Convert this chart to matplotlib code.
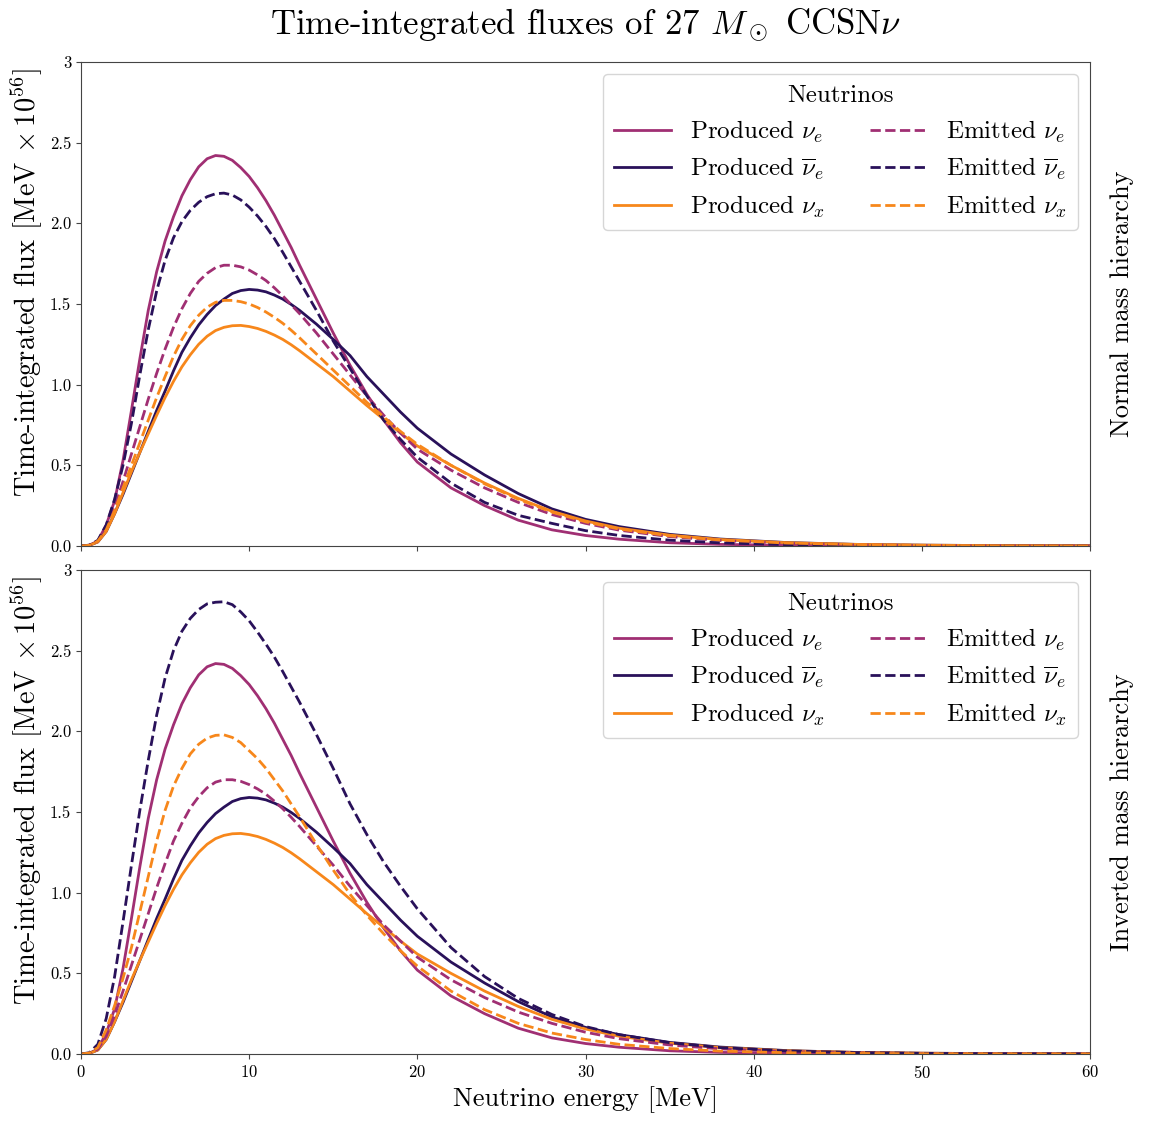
import matplotlib
matplotlib.use("Agg")
import matplotlib.pyplot as plt

plt.rcParams['font.family'] = 'serif'
plt.rcParams['font.serif'] = ['cmr10', 'DejaVu Serif']
plt.rcParams['mathtext.fontset'] = 'cm'
plt.rcParams['axes.formatter.use_mathtext'] = True
plt.rcParams['axes.unicode_minus'] = False

# Energias (MeV) donde se leyeron los valores
energy = [0, 0.5, 1, 1.5, 2, 2.5, 3, 3.5, 4, 4.5, 5, 5.5, 6, 6.5, 7, 7.5, 8, 8.5, 9, 9.5,
          10, 10.5, 11, 11.5, 12, 12.5, 13,
          14, 15, 16, 17, 18, 19, 20, 22, 24, 26, 28, 30, 32, 35, 38, 42, 46, 50, 55, 60]

# Flujos producidos (iguales en ambas jerarquias)
prod_nue = [0, 0.005, 0.03, 0.13, 0.28, 0.53, 0.84, 1.16, 1.46, 1.70, 1.89, 2.04, 2.17, 2.27,
            2.35, 2.40, 2.42, 2.415, 2.39, 2.345, 2.29, 2.22, 2.14, 2.05, 1.95, 1.85, 1.74,
            1.53, 1.32, 1.12, 0.94, 0.78, 0.64, 0.52, 0.36, 0.25, 0.16, 0.10, 0.065, 0.042,
            0.02, 0.01, 0.004, 0.0015, 0.0005, 0.0001, 0]
prod_nuebar = [0, 0.004, 0.025, 0.09, 0.20, 0.32, 0.45, 0.58, 0.71, 0.84, 0.96, 1.085, 1.20,
               1.29, 1.37, 1.435, 1.49, 1.53, 1.565, 1.583, 1.59, 1.586, 1.575, 1.555, 1.53,
               1.497, 1.46,
               1.375, 1.28, 1.18, 1.05, 0.94, 0.83, 0.73, 0.57, 0.44, 0.325, 0.23, 0.165,
               0.12, 0.072, 0.043, 0.021, 0.01, 0.005, 0.002, 0.001]
prod_nux = [0, 0.004, 0.025, 0.09, 0.20, 0.33, 0.46, 0.58, 0.695, 0.81, 0.92, 1.02, 1.11,
            1.185, 1.25, 1.30, 1.335, 1.355, 1.365, 1.367, 1.36, 1.348, 1.33, 1.307, 1.28,
            1.247, 1.21,
            1.13, 1.05, 0.96, 0.87, 0.785, 0.70, 0.62, 0.50, 0.39, 0.295, 0.215, 0.155, 0.11,
            0.067, 0.04, 0.02, 0.01, 0.005, 0.002, 0.001]

# Flujos emitidos, jerarquia normal
emit_nue_nh = [0, 0.004, 0.03, 0.11, 0.24, 0.40, 0.57, 0.74, 0.91, 1.07, 1.22, 1.355, 1.47,
               1.565, 1.64, 1.69, 1.725, 1.74, 1.74, 1.73, 1.71, 1.68, 1.645, 1.60, 1.55,
               1.495, 1.44,
               1.32, 1.19, 1.06, 0.93, 0.81, 0.70, 0.60, 0.47, 0.36, 0.27, 0.195, 0.14, 0.098,
               0.058, 0.034, 0.016, 0.007, 0.003, 0.001, 0]
emit_nuebar_nh = [0, 0.005, 0.035, 0.13, 0.29, 0.50, 0.76, 1.06, 1.34, 1.58, 1.77, 1.91, 2.01,
                  2.08, 2.13, 2.165, 2.183, 2.187, 2.175, 2.145, 2.10, 2.045, 1.98, 1.905,
                  1.82, 1.73, 1.64,
                  1.46, 1.27, 1.10, 0.93, 0.78, 0.66, 0.55, 0.39, 0.27, 0.19, 0.14, 0.095,
                  0.065, 0.036, 0.019, 0.008, 0.0035, 0.0015, 0.0005, 0]
emit_nux_nh = [0, 0.004, 0.03, 0.10, 0.22, 0.36, 0.50, 0.64, 0.78, 0.92, 1.05, 1.175, 1.28,
               1.365, 1.43, 1.48, 1.51, 1.522, 1.522, 1.514, 1.50, 1.478, 1.45, 1.417, 1.38,
               1.337, 1.29,
               1.19, 1.09, 0.99, 0.89, 0.80, 0.71, 0.63, 0.50, 0.385, 0.29, 0.21, 0.15, 0.105,
               0.063, 0.037, 0.018, 0.009, 0.004, 0.0015, 0.0005]

# Flujos emitidos, jerarquia invertida
emit_nue_ih = [0, 0.004, 0.03, 0.11, 0.24, 0.39, 0.55, 0.71, 0.87, 1.03, 1.18, 1.32, 1.43,
               1.525, 1.595, 1.65, 1.685, 1.70, 1.70, 1.69, 1.67, 1.643, 1.61, 1.567, 1.52,
               1.467, 1.41,
               1.29, 1.17, 1.04, 0.92, 0.80, 0.70, 0.60, 0.46, 0.35, 0.26, 0.19, 0.135, 0.095,
               0.056, 0.032, 0.015, 0.007, 0.003, 0.001, 0]
emit_nuebar_ih = [0, 0.008, 0.06, 0.22, 0.48, 0.82, 1.17, 1.51, 1.82, 2.10, 2.33, 2.50, 2.62,
                  2.70, 2.755, 2.79, 2.80, 2.803, 2.785, 2.74, 2.685, 2.615, 2.54, 2.46,
                  2.37, 2.275, 2.18,
                  1.98, 1.77, 1.55, 1.36, 1.19, 1.04, 0.90, 0.66, 0.48, 0.345, 0.245, 0.17,
                  0.12, 0.07, 0.04, 0.019, 0.009, 0.004, 0.0015, 0.0005]
emit_nux_ih = [0, 0.006, 0.04, 0.15, 0.30, 0.47, 0.66, 0.88, 1.10, 1.32, 1.51, 1.66, 1.77,
               1.86, 1.92, 1.958, 1.975, 1.978, 1.962, 1.93, 1.88, 1.83, 1.77, 1.70, 1.63,
               1.55, 1.47,
               1.30, 1.14, 0.99, 0.86, 0.745, 0.64, 0.545, 0.39, 0.275, 0.19, 0.13, 0.09,
               0.06, 0.034, 0.018, 0.008, 0.0035, 0.0015, 0.0005, 0]

yticks = [0, 0.5, 1.0, 1.5, 2.0, 2.5, 3]
ytick_labels = ['0.0', '0.5', '1.0', '1.5', '2.0', '2.5', '3']
xticks = [0, 10, 20, 30, 40, 50, 60]

c_e = '#a02f73'
c_a = '#29115a'
c_x = '#f7871b'

panels = [
    ('Normal mass hierarchy', emit_nue_nh, emit_nuebar_nh, emit_nux_nh),
    ('Inverted mass hierarchy', emit_nue_ih, emit_nuebar_ih, emit_nux_ih),
]

fig = plt.figure(figsize=(11.52, 11.22), dpi=100)
ax_top = fig.add_axes([0.0703, 0.5134, 0.8759, 0.4314])
ax_bot = fig.add_axes([0.0703, 0.0606, 0.8759, 0.4314], sharex=ax_top)

for ax, (name, e_nue, e_nuebar, e_nux) in zip([ax_top, ax_bot], panels):
    lw = 2.0
    ax.plot(energy, prod_nue, color=c_e, lw=lw, label=r'Produced $\nu_e$')
    ax.plot(energy, prod_nuebar, color=c_a, lw=lw, label=r'Produced $\overline{\nu}_e$')
    ax.plot(energy, prod_nux, color=c_x, lw=lw, label=r'Produced $\nu_x$')
    ax.plot(energy, e_nue, color=c_e, lw=lw, ls='--', label=r'Emitted $\nu_e$')
    ax.plot(energy, e_nuebar, color=c_a, lw=lw, ls='--', label=r'Emitted $\overline{\nu}_e$')
    ax.plot(energy, e_nux, color=c_x, lw=lw, ls='--', label=r'Emitted $\nu_x$')

    ax.set_xlim(0, 60)
    ax.set_ylim(0, 3)
    ax.set_xticks(xticks)
    ax.set_yticks(yticks)
    ax.set_yticklabels(ytick_labels)
    ax.tick_params(labelsize=12, color='#444444')
    for s in ax.spines.values():
        s.set_color('#444444')
    ax.set_ylabel(r'Time-integrated flux [MeV $\times\,10^{56}$]', fontsize=20.5)
    ax.yaxis.set_label_coords(-0.036, 0.545)
    ax.text(1.032, 0.5, name, transform=ax.transAxes, rotation=90,
            ha='center', va='center', fontsize=19)
    ax.legend(ncol=2, title='Neutrinos', fontsize=18, title_fontsize=18,
              loc='upper right', columnspacing=1.8, handlelength=2.3,
              handletextpad=0.75, labelspacing=0.45, borderpad=0.42)

plt.setp(ax_top.get_xticklabels(), visible=False)
ax_bot.set_xlabel('Neutrino energy [MeV]', fontsize=19, labelpad=4)

fig.suptitle(r'Time-integrated fluxes of 27 $M_\odot$ CCSN$\nu$', fontsize=25, y=0.994, x=0.508)

fig.savefig('out.png', dpi=100)
